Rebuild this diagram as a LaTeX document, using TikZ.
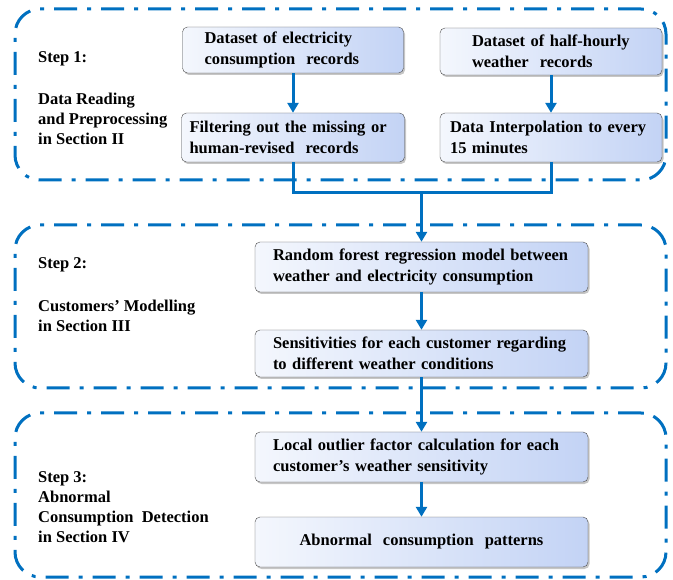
\documentclass[tikz,border=0pt]{standalone}
\usepackage{fontspec}
\setmainfont{Liberation Serif}
\usetikzlibrary{arrows.meta,positioning,shadows}
\definecolor{stepblue}{HTML}{0070C0}
\definecolor{boxleft}{HTML}{F4F7FD}
\definecolor{boxright}{HTML}{C3D3F5}

\begin{document}
\begin{tikzpicture}[x=1pt,y=-1pt,
	group/.style={draw=stepblue, line width=3pt, rounded corners=25pt, dash pattern=on 23pt off 10pt on 4pt off 10pt, minimum width=651pt, inner sep=0pt},
	proc/.style={draw=gray!60!black, rounded corners=5pt, left color=boxleft, right color=boxright, drop shadow={shadow xshift=1.5pt, shadow yshift=-2pt, opacity=0.45}, align=left, inner ysep=0pt, font=\fontsize{16.5}{21}\selectfont\bfseries},
	steplabel/.style={anchor=west, align=left, inner sep=0pt, font=\fontsize{16.5}{19.8}\selectfont\bfseries},
	arr/.style={draw=stepblue, line width=3pt, -{Triangle[width=11pt,length=10pt]}},
	link/.style={draw=stepblue, line width=3pt}]
		\useasboundingbox (0,0) rectangle (673,580);

		\node[group, minimum height=171pt] (grp1) at (340.5,94.5) {};
		\node[group, minimum height=163pt] (grp2) at (340.5,306.5) {};
		\node[group, minimum height=164pt] (grp3) at (340.5,495) {};

		\node[steplabel] (step1) at (38,59) {Step 1:};
		\node[steplabel] (desc1) at (38,119) {Data Reading\\and Preprocessing\\in Section II};
		\node[steplabel] (step2) at (38,265) {Step 2:};
		\node[steplabel] (desc2) at (38,316) {Customers' Modelling\\in Section III};
		\node[steplabel] (desc3) at (38,507) {Step 3:\\Abnormal\\Consumption\ \ Detection\\in Section IV};

		\node[proc, inner xsep=22pt, text width=177pt, minimum height=46pt] (elec) at (293,50) {Dataset of electricity\\consumption\ \ records};
		\node[proc, inner xsep=8pt, text width=207pt, minimum height=49pt] (filt) at (293,137.5) {Filtering out the missing or\\human-revised\ \ records};
		\node[proc, inner xsep=32pt, text width=158pt, minimum height=47pt] (weat) at (551,51.5) {Dataset of half-hourly\\weather\ \ records};
		\node[proc, inner xsep=10pt, text width=202pt, minimum height=49pt] (intp) at (551,137.5) {Data Interpolation to every\\15 minutes};

		\node[proc, inner xsep=18pt, text width=297pt, minimum height=50pt] (rfm) at (421.5,267) {Random forest regression model between\\weather and electricity consumption};
		\node[proc, inner xsep=18pt, text width=297pt, minimum height=47pt] (sens) at (421.5,353.5) {Sensitivities for each customer regarding\\to different weather conditions};

		\node[proc, inner xsep=18pt, text width=297pt, minimum height=50pt] (lof) at (421.5,457) {Local outlier factor calculation for each\\customer's weather sensitivity};
		\node[proc, align=center, inner xsep=18pt, text width=297pt, minimum height=50pt] (abn) at (421.5,542) {Abnormal\ \ consumption\ \ patterns};

		\coordinate (merge) at (421.5,193);

		\draw[arr] (elec) -- (filt);
		\draw[arr] (weat) -- (intp);
		\draw[link] (filt.south) |- (merge);
		\draw[link] (intp.south) |- (merge);
		\draw[arr] (merge) -- (rfm.north);
		\draw[arr] (rfm) -- (sens);
		\draw[arr] (sens) -- (lof);
		\draw[arr] (lof) -- (abn);
	\end{tikzpicture}
\end{document}
